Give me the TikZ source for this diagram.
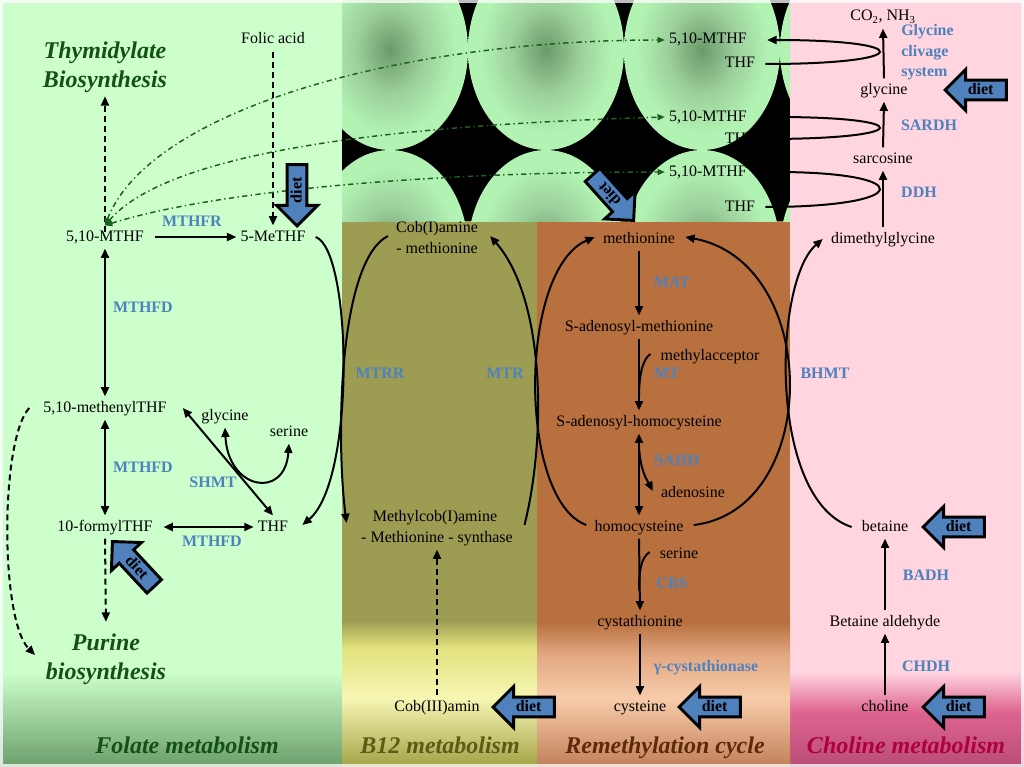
\documentclass[tikz,border=0pt]{standalone}
\usepackage{fontspec}
\setmainfont{Liberation Serif}
\usetikzlibrary{arrows.meta,calc,shapes.arrows}
\definecolor{enz}{HTML}{4F81BD}
\definecolor{dietblue}{HTML}{4F81BD}
\definecolor{folbg}{HTML}{CCFFCC}
\definecolor{folbot}{HTML}{6A9E6A}
\definecolor{olivebg}{HTML}{9C9C52}
\definecolor{b12y}{HTML}{E2E27E}
\definecolor{b12p}{HTML}{F6F6B4}
\definecolor{b12b}{HTML}{A2A246}
\definecolor{brownbg}{HTML}{B8703F}
\definecolor{remy}{HTML}{E2A882}
\definecolor{remp}{HTML}{F8CCAA}
\definecolor{remb}{HTML}{C08058}
\definecolor{pinkbg}{HTML}{FFD5E0}
\definecolor{chmid}{HTML}{DE6490}
\definecolor{chbot}{HTML}{B84C78}
\definecolor{ellg}{HTML}{B2F2B2}
\definecolor{ellm}{HTML}{9CD09C}
\definecolor{elld}{HTML}{6A9A6A}
\definecolor{dkgreen}{HTML}{145214}
\definecolor{ddgreen}{HTML}{1E5E1E}
\definecolor{dkolive}{HTML}{5C5C14}
\definecolor{dkbrown}{HTML}{5E2A0C}
\definecolor{crimson}{HTML}{B0003C}
\pgfdeclareradialshading{ellsh}{\pgfpoint{0bp}{0bp}}{color(0bp)=(elld); color(11bp)=(ellm); color(21bp)=(ellg); color(50bp)=(ellg)}
\tikzset{
  txt/.style={font=\fontsize{12}{14}\selectfont, text height=8.5pt, text depth=2.5pt, inner sep=3pt},
  enzl/.style={txt, font=\fontsize{12}{14}\selectfont\bfseries, text=enz},
  ttl/.style={font=\fontsize{18}{22}\selectfont\bfseries\itshape, text height=13pt, text depth=4pt, inner sep=2pt},
  arr/.style={line width=1.5pt, -{Triangle[length=7pt,width=6pt]}},
  darr/.style={line width=1.5pt, {Triangle[length=7pt,width=6pt]}-{Triangle[length=7pt,width=6pt]}},
  dsharr/.style={arr, dash pattern=on 4.5pt off 3pt},
  plain/.style={line width=1.5pt},
  gdd/.style={draw=ddgreen, line width=1.1pt, dash pattern=on 4pt off 2.5pt on 1pt off 2.5pt, {Triangle[length=5.5pt,width=4.5pt]}-{Triangle[length=5.5pt,width=4.5pt]}},
  dietarrow/.style={single arrow, draw=black, line width=2.2pt, fill=dietblue, shape border rotate=180,
     minimum height=46pt, single arrow head extend=8pt, inner xsep=3pt, inner ysep=1.8pt,
     text height=8pt, text depth=1pt, font=\fontsize{12}{14}\selectfont\bfseries, anchor=tip}
}
\begin{document}
\begin{tikzpicture}[x=0.75pt,y=-0.75pt]
\useasboundingbox (0,0) rectangle (1024,767);
% ---------- backgrounds ----------
\fill[folbg] (0,0) rectangle (342,672);
\shade[top color=folbg, bottom color=folbot] (0,672) rectangle (342,767);
\fill[pinkbg] (790,0) rectangle (1024,672);
\shade[top color=pinkbg, bottom color=chmid] (790,672) rectangle (1024,712);
\shade[top color=chmid, bottom color=chbot] (790,712) rectangle (1024,767);
\fill[olivebg] (342,221) rectangle (537,620);
\shade[top color=olivebg, bottom color=b12y] (342,620) rectangle (537,648);
\shade[top color=b12y, bottom color=b12p] (342,648) rectangle (537,698);
\shade[top color=b12p, bottom color=b12b] (342,698) rectangle (537,767);
\fill[brownbg] (537,221) rectangle (790,622);
\shade[top color=brownbg, bottom color=remy] (537,622) rectangle (790,655);
\shade[top color=remy, bottom color=remp] (537,655) rectangle (790,698);
\shade[top color=remp, bottom color=remb] (537,698) rectangle (790,767);
\fill[black] (342,0) rectangle (790,221);
\begin{scope}
  \clip (342,0) rectangle (790,221);
  \foreach \cx in {234,390,546,702,858} {
    \foreach \cy in {50,250} {
      \shade[shading=ellsh] (\cx,\cy) ellipse [x radius=58.5pt, y radius=75pt];
    }
  }
\end{scope}
\draw[white, opacity=0.75, line width=4.5pt] (0,0) rectangle (1024,767);

% ---------- Folate ----------
\node[ttl,text=dkgreen] (thy1) at (105,53) {Thymidylate};
\node[ttl,text=dkgreen] (thy2) at (105,82) {Biosynthesis};
\node[txt] (folic) at (273,40) {Folic acid};
\node[txt] (mthfL) at (105,237) {5,10-MTHF};
\node[txt] (methf) at (273,237) {5-MeTHF};
\node[enzl] (eMTHFR) at (192,222) {MTHFR};
\node[enzl] (eMTHFDa) at (143,308) {MTHFD};
\node[txt] (menyl) at (105,408) {5,10-methenylTHF};
\node[enzl] (eMTHFDb) at (143,468) {MTHFD};
\node[txt] (formyl) at (105,527) {10-formylTHF};
\node[txt] (thf) at (273,527) {THF};
\node[enzl] (eMTHFDc) at (212,542) {MTHFD};
\node[enzl] (eSHMT) at (213,483) {SHMT};
\node[txt] (glyL) at (225,416) {glycine};
\node[txt] (serL) at (289,432) {serine};
\node[ttl,text=dkgreen] (pur1) at (106,644) {Purine};
\node[ttl,text=dkgreen] (pur2) at (106,673) {biosynthesis};
\node[ttl,text=dkgreen] (lfol) at (187,747) {Folate metabolism};

% ---------- B12 ----------
\node[txt] (cob1) at (437,228) {Cob(I)amine};
\node[txt] (cob2) at (437,249) {- methionine};
\node[txt] (mcob1) at (435,517) {Methylcob(I)amine};
\node[txt] (mcob2) at (437,538) {- Methionine - synthase};
\node[enzl] (eMTRR) at (380,374) {MTRR};
\node[enzl] (eMTR) at (505,374) {MTR};
\node[txt] (cob3) at (437,707) {Cob(III)amin};
\node[ttl,text=dkolive] (lb12) at (440,747) {B12 metabolism};

% ---------- Remethylation ----------
\node[txt] (met) at (639,239) {methionine};
\node[enzl] (eMAT) at (672,283) {MAT};
\node[txt] (sam) at (639,327) {S-adenosyl-methionine};
\node[txt] (macc) at (710,356) {methylacceptor};
\node[enzl] (eMT) at (667,374) {MT};
\node[txt] (sah) at (639,422) {S-adenosyl-homocysteine};
\node[enzl] (eSAHH) at (677,461) {SAHH};
\node[txt] (ado) at (693,493) {adenosine};
\node[txt] (hcy) at (639,527) {homocysteine};
\node[txt] (serR) at (679,554) {serine};
\node[enzl] (eCBS) at (672,584) {CBS};
\node[txt] (cysta) at (640,622) {cystathionine};
\node[enzl] (eCGL) at (706,667) {γ-cystathionase};
\node[txt] (cys) at (640,707) {cysteine};
\node[ttl,text=dkbrown] (lrem) at (665,747) {Remethylation cycle};

% ---------- top middle ----------
\node[txt] (mthfa) at (708,40) {5,10-MTHF};
\node[txt] (thfa) at (740,64) {THF};
\node[txt] (mthfb) at (708,117) {5,10-MTHF};
\node[txt] (thfb) at (740,139) {THF};
\node[txt] (mthfc) at (708,172) {5,10-MTHF};
\node[txt] (thfc) at (740,207) {THF};

% ---------- Choline ----------
\node[txt] (co2) at (883,17) {CO\textsubscript{2}, NH\textsubscript{3}};
\node[enzl, anchor=west] (eGCSa) at (897,32) {Glycine};
\node[enzl, anchor=west] (eGCSb) at (897,53) {clivage};
\node[enzl, anchor=west] (eGCSc) at (897,72) {system};
\node[txt] (gly) at (884,90) {glycine};
\node[enzl] (eSARDH) at (929,126) {SARDH};
\node[txt] (sarc) at (883,159) {sarcosine};
\node[enzl] (eDDH) at (919,193) {DDH};
\node[txt] (dmg) at (883,239) {dimethylglycine};
\node[enzl] (eBHMT) at (825,374) {BHMT};
\node[txt] (bet) at (885,527) {betaine};
\node[enzl] (eBADH) at (926,576) {BADH};
\node[txt] (betald) at (885,622) {Betaine aldehyde};
\node[enzl] (eCHDH) at (926,667) {CHDH};
\node[txt] (chol) at (885,707) {choline};
\node[ttl,text=crimson] (lcho) at (906,747) {Choline metabolism};

% ---------- connectors: folate ----------
\draw[arr, shorten <=5pt] (mthfL.east) -- (methf.west);
\draw[dsharr] (folic.south) -- (methf.north);
\draw[dsharr] ($(mthfL.center)+(0,-5)$) -- (thy2.south);
\draw[darr] (mthfL.south) -- (menyl.north);
\draw[darr] (menyl.south) -- (formyl.north);
\draw[darr, shorten <=5pt] (formyl.east) -- (thf.west);
\draw[darr] ($(menyl.east)+(12,0)$) -- (thf.north);
\draw[darr] (glyL.south) .. controls (228,490) and (285,500) .. (serL.south);
\draw[arr] ($(methf.east)+(6,0)$) .. controls (352,250) and (356,480) .. ($(thf.east)+(10,-2)$);
\draw[dsharr] ($(menyl.west)+(-10,0)$) .. controls (0,440) and (0,620) .. ($(pur1.west)+(-34,11)$);
\draw[dsharr, shorten >=6pt] (formyl.south) -- (pur1.north);
\draw[gdd] (mthfL.north) .. controls (150,110) and (400,40) .. (mthfa.west);
\draw[gdd] (mthfL.north) .. controls (170,150) and (400,125) .. (mthfb.west);
\draw[gdd] (mthfL.north) .. controls (200,195) and (400,172) .. (mthfc.west);

% ---------- connectors: B12 ----------
\draw[arr] ($(cob1.west)+(-4,8)$) .. controls (338,262) and (336,440) .. ($(mcob1.west)+(-22,6)$);
\draw[arr] ($(mcob1.east)+(23,8)$) .. controls (546,440) and (546,300) .. ($(cob1.east)+(8,8)$);
\draw[dsharr] (cob3.north) -- (mcob2.south);

% ---------- connectors: remethylation ----------
\draw[arr] (met.south) -- (sam.north);
\draw[arr] (sam.south) -- (sah.north);
\draw[darr] (sah.south) -- (hcy.north);
\draw[arr] (hcy.south) -- (cysta.north);
\draw[arr] (cysta.south) -- (cys.north);
\draw[arr] ($(hcy.west)+(-4,-2)$) .. controls (518,500) and (518,270) .. ($(met.west)+(-4,-2)$);
\draw[arr] ($(hcy.east)+(6,-2)$) .. controls (822,510) and (822,262) .. ($(met.east)+(6,-2)$);
\coordinate (mtj) at (639,397);
\draw[plain] ($(macc.west)+(-6,-2)$) .. controls +(-9,6) and +(0,-18) .. (mtj);
\coordinate (sahj) at (639,446);
\draw[arr] (sahj) .. controls +(1,26) and +(-4,-8) .. ($(ado.west)+(-4,-2)$);
\coordinate (cbsj) at (639,590);
\draw[plain] ($(serR.west)+(-6,-2)$) .. controls +(-9,6) and +(0,-18) .. (cbsj);

% ---------- connectors: top right loops ----------
\draw[arr] ($(thfa.east)+(6,0)$) .. controls +(150,0) and +(150,0) .. ($(mthfa.east)+(16,0)$);
\draw[arr] ($(thfb.east)+(6,0)$) .. controls +(150,0) and +(150,0) .. ($(mthfb.east)+(16,0)$);
\draw[arr] ($(thfc.east)+(6,0)$) .. controls +(150,0) and +(150,0) .. ($(mthfc.east)+(16,0)$);

% ---------- connectors: choline ----------
\draw[arr] (gly.north) -- (co2.south);
\draw[arr] (sarc.north) -- (gly.south);
\draw[arr] (dmg.north) -- (sarc.south);
\draw[arr] ($(bet.west)+(-6,0)$) .. controls (768,500) and (773,282) .. ($(dmg.west)+(-4,0)$);
\draw[arr] (betald.north) -- (bet.south);
\draw[arr] (chol.north) -- (betald.south);

% ---------- diet arrows ----------
\node[dietarrow, rotate=90] (dietA) at (297,228) {diet};
\node[dietarrow, rotate=-47] (dietB) at (111,540) {diet};
\node[dietarrow, rotate=132] (dietC) at (635,222) {diet};
\node[dietarrow] (dietD) at (943,90) {diet};
\node[dietarrow] (dietE) at (921,527) {diet};
\node[dietarrow] (dietF) at (921,707) {diet};
\node[dietarrow] (dietG) at (677,707) {diet};
\node[dietarrow] (dietH) at (491,707) {diet};
\end{tikzpicture}
\end{document}
